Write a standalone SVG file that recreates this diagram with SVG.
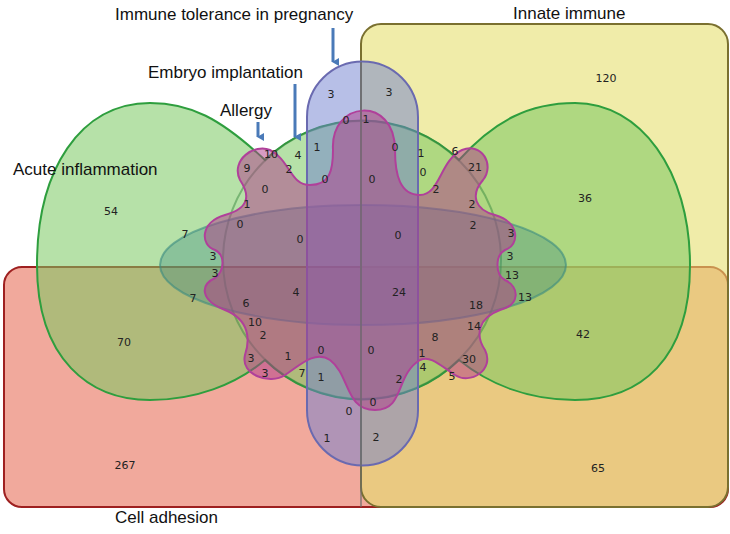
<svg xmlns="http://www.w3.org/2000/svg" width="730" height="534" viewBox="0 0 730 534">
<style>
.lb{font-family:"Liberation Sans",Arial,sans-serif;font-size:17px;fill:#111}
.n{font-family:"DejaVu Sans",sans-serif;font-size:11px;fill:#222;text-anchor:middle}
</style>
<defs><marker id="ah" markerWidth="8" markerHeight="8" refX="4" refY="6" orient="auto" markerUnits="userSpaceOnUse"><path d="M0,0 L8,0 L4,7 Z" fill="#4a7ab8"/></marker></defs>
<rect width="730" height="534" fill="#fff"/>
<g id="cell-adhesion"><rect x="4" y="267" width="724" height="240" rx="18" fill="#e8705a" fill-opacity="0.6" stroke="#9e2020" stroke-width="2"/></g>
<g id="innate-immune"><rect x="361" y="24" width="367" height="483" rx="20" fill="#e6e070" fill-opacity="0.6" stroke="#7a7030" stroke-width="2"/></g>
<g id="acute-inflammation">
<path d="M265,160 C220,118 190,103 150,103 C80,103 37,170 37,265 C37,360 90,400 150,400 C195,400 235,385 265,360 A139 139 0 0 0 459,360 C490,385 530,400 575,400 C640,400 690,360 690,265 C690,170 640,103 575,103 C530,103 495,120 459,160 A139 139 0 0 0 265,160 Z" fill="#7ac860" fill-opacity="0.55" stroke="#2e9e3e" stroke-width="2"/>
<circle cx="362" cy="260" r="139" fill="none" stroke="#3a8a40" stroke-opacity="0.5" stroke-width="2"/>
</g>
<g id="ellipse-mid"><ellipse cx="363" cy="265" rx="203" ry="60" fill="#3a8a80" fill-opacity="0.35" stroke="#3a8a80" stroke-opacity="0.6" stroke-width="2"/></g>
<g id="immune-tolerance"><path d="M307,117 A55.5 55.5 0 0 1 418,117 L418,410 A55.5 55.5 0 0 1 307,410 Z" fill="#7080d0" fill-opacity="0.5" stroke="#6a6ab0" stroke-width="2"/></g>
<g id="allergy-embryo">
<path d="M333,150 C330,100 395,95 395,150 C395,175 400,195 420,195 C440,195 440,160 462,150 C482,142 495,165 483,180 C470,195 475,210 495,215 C520,222 520,245 505,250 C495,255 495,275 505,280 C520,287 520,305 500,310 C478,318 475,335 485,350 C495,370 470,385 455,375 C440,365 430,355 420,360 C395,375 405,410 375,410 C345,410 350,375 330,360 C315,350 300,365 285,375 C270,385 240,375 245,355 C250,340 250,320 225,310 C200,300 200,285 215,278 C225,270 225,255 215,250 C200,245 200,222 225,215 C250,208 250,195 240,180 C230,160 255,143 270,150 C290,160 290,185 310,185 C330,185 333,170 333,150 Z" fill="#b03a8a" fill-opacity="0.5" stroke="#b0409a" stroke-width="2"/>
</g>
<g id="divider"><line x1="361" y1="62" x2="361" y2="507" stroke="#6a6a6a" stroke-opacity="0.6" stroke-width="2"/></g>
<g id="connectors" stroke="#4a7ab8" stroke-width="3">
<line x1="333" y1="28" x2="333" y2="62" marker-end="url(#ah)"/>
<line x1="295" y1="84" x2="295" y2="137" marker-end="url(#ah)"/>
<line x1="258" y1="122" x2="258" y2="137" marker-end="url(#ah)"/>
</g>
<g id="labels">
<text class="lb" x="115" y="20">Immune tolerance in pregnancy</text>
<text class="lb" x="513" y="19">Innate immune</text>
<text class="lb" x="148" y="78">Embryo implantation</text>
<text class="lb" x="220" y="116">Allergy</text>
<text class="lb" x="13" y="175">Acute inflammation</text>
<text class="lb" x="115" y="523">Cell adhesion</text>
</g>
<g id="numbers">
<text class="n" x="606" y="82">120</text><text class="n" x="585" y="202">36</text><text class="n" x="111" y="215">54</text>
<text class="n" x="185" y="238">7</text><text class="n" x="193" y="302">7</text><text class="n" x="124" y="346">70</text>
<text class="n" x="125" y="469">267</text><text class="n" x="598" y="472">65</text><text class="n" x="583" y="338">42</text>
<text class="n" x="525" y="301">13</text><text class="n" x="331" y="98">3</text><text class="n" x="389" y="96">3</text>
<text class="n" x="346" y="124">0</text><text class="n" x="366" y="123">1</text><text class="n" x="271" y="158">10</text>
<text class="n" x="298" y="159">4</text><text class="n" x="247" y="172">9</text><text class="n" x="289" y="173">2</text>
<text class="n" x="317" y="151">1</text><text class="n" x="325" y="183">0</text><text class="n" x="372" y="183">0</text>
<text class="n" x="395" y="151">0</text><text class="n" x="421" y="157">1</text><text class="n" x="455" y="155">6</text>
<text class="n" x="475" y="171">21</text><text class="n" x="423" y="176">0</text><text class="n" x="436" y="193">2</text>
<text class="n" x="265" y="193">0</text><text class="n" x="247" y="208">1</text><text class="n" x="472" y="208">2</text>
<text class="n" x="240" y="228">0</text><text class="n" x="473" y="229">2</text><text class="n" x="511" y="237">3</text>
<text class="n" x="300" y="243">0</text><text class="n" x="398" y="239">0</text><text class="n" x="213" y="260">3</text>
<text class="n" x="510" y="260">3</text><text class="n" x="215" y="277">3</text><text class="n" x="512" y="279">13</text>
<text class="n" x="296" y="296">4</text><text class="n" x="399" y="296">24</text><text class="n" x="246" y="307">6</text>
<text class="n" x="476" y="309">18</text><text class="n" x="255" y="326">10</text><text class="n" x="474" y="330">14</text>
<text class="n" x="263" y="339">2</text><text class="n" x="435" y="341">8</text><text class="n" x="251" y="362">3</text>
<text class="n" x="288" y="360">1</text><text class="n" x="321" y="354">0</text><text class="n" x="371" y="354">0</text>
<text class="n" x="422" y="357">1</text><text class="n" x="469" y="363">30</text><text class="n" x="265" y="377">3</text>
<text class="n" x="302" y="377">7</text><text class="n" x="321" y="381">1</text><text class="n" x="423" y="371">4</text>
<text class="n" x="399" y="383">2</text><text class="n" x="452" y="380">5</text><text class="n" x="349" y="415">0</text>
<text class="n" x="373" y="406">0</text><text class="n" x="327" y="442">1</text><text class="n" x="376" y="441">2</text>
</g>
</svg>
